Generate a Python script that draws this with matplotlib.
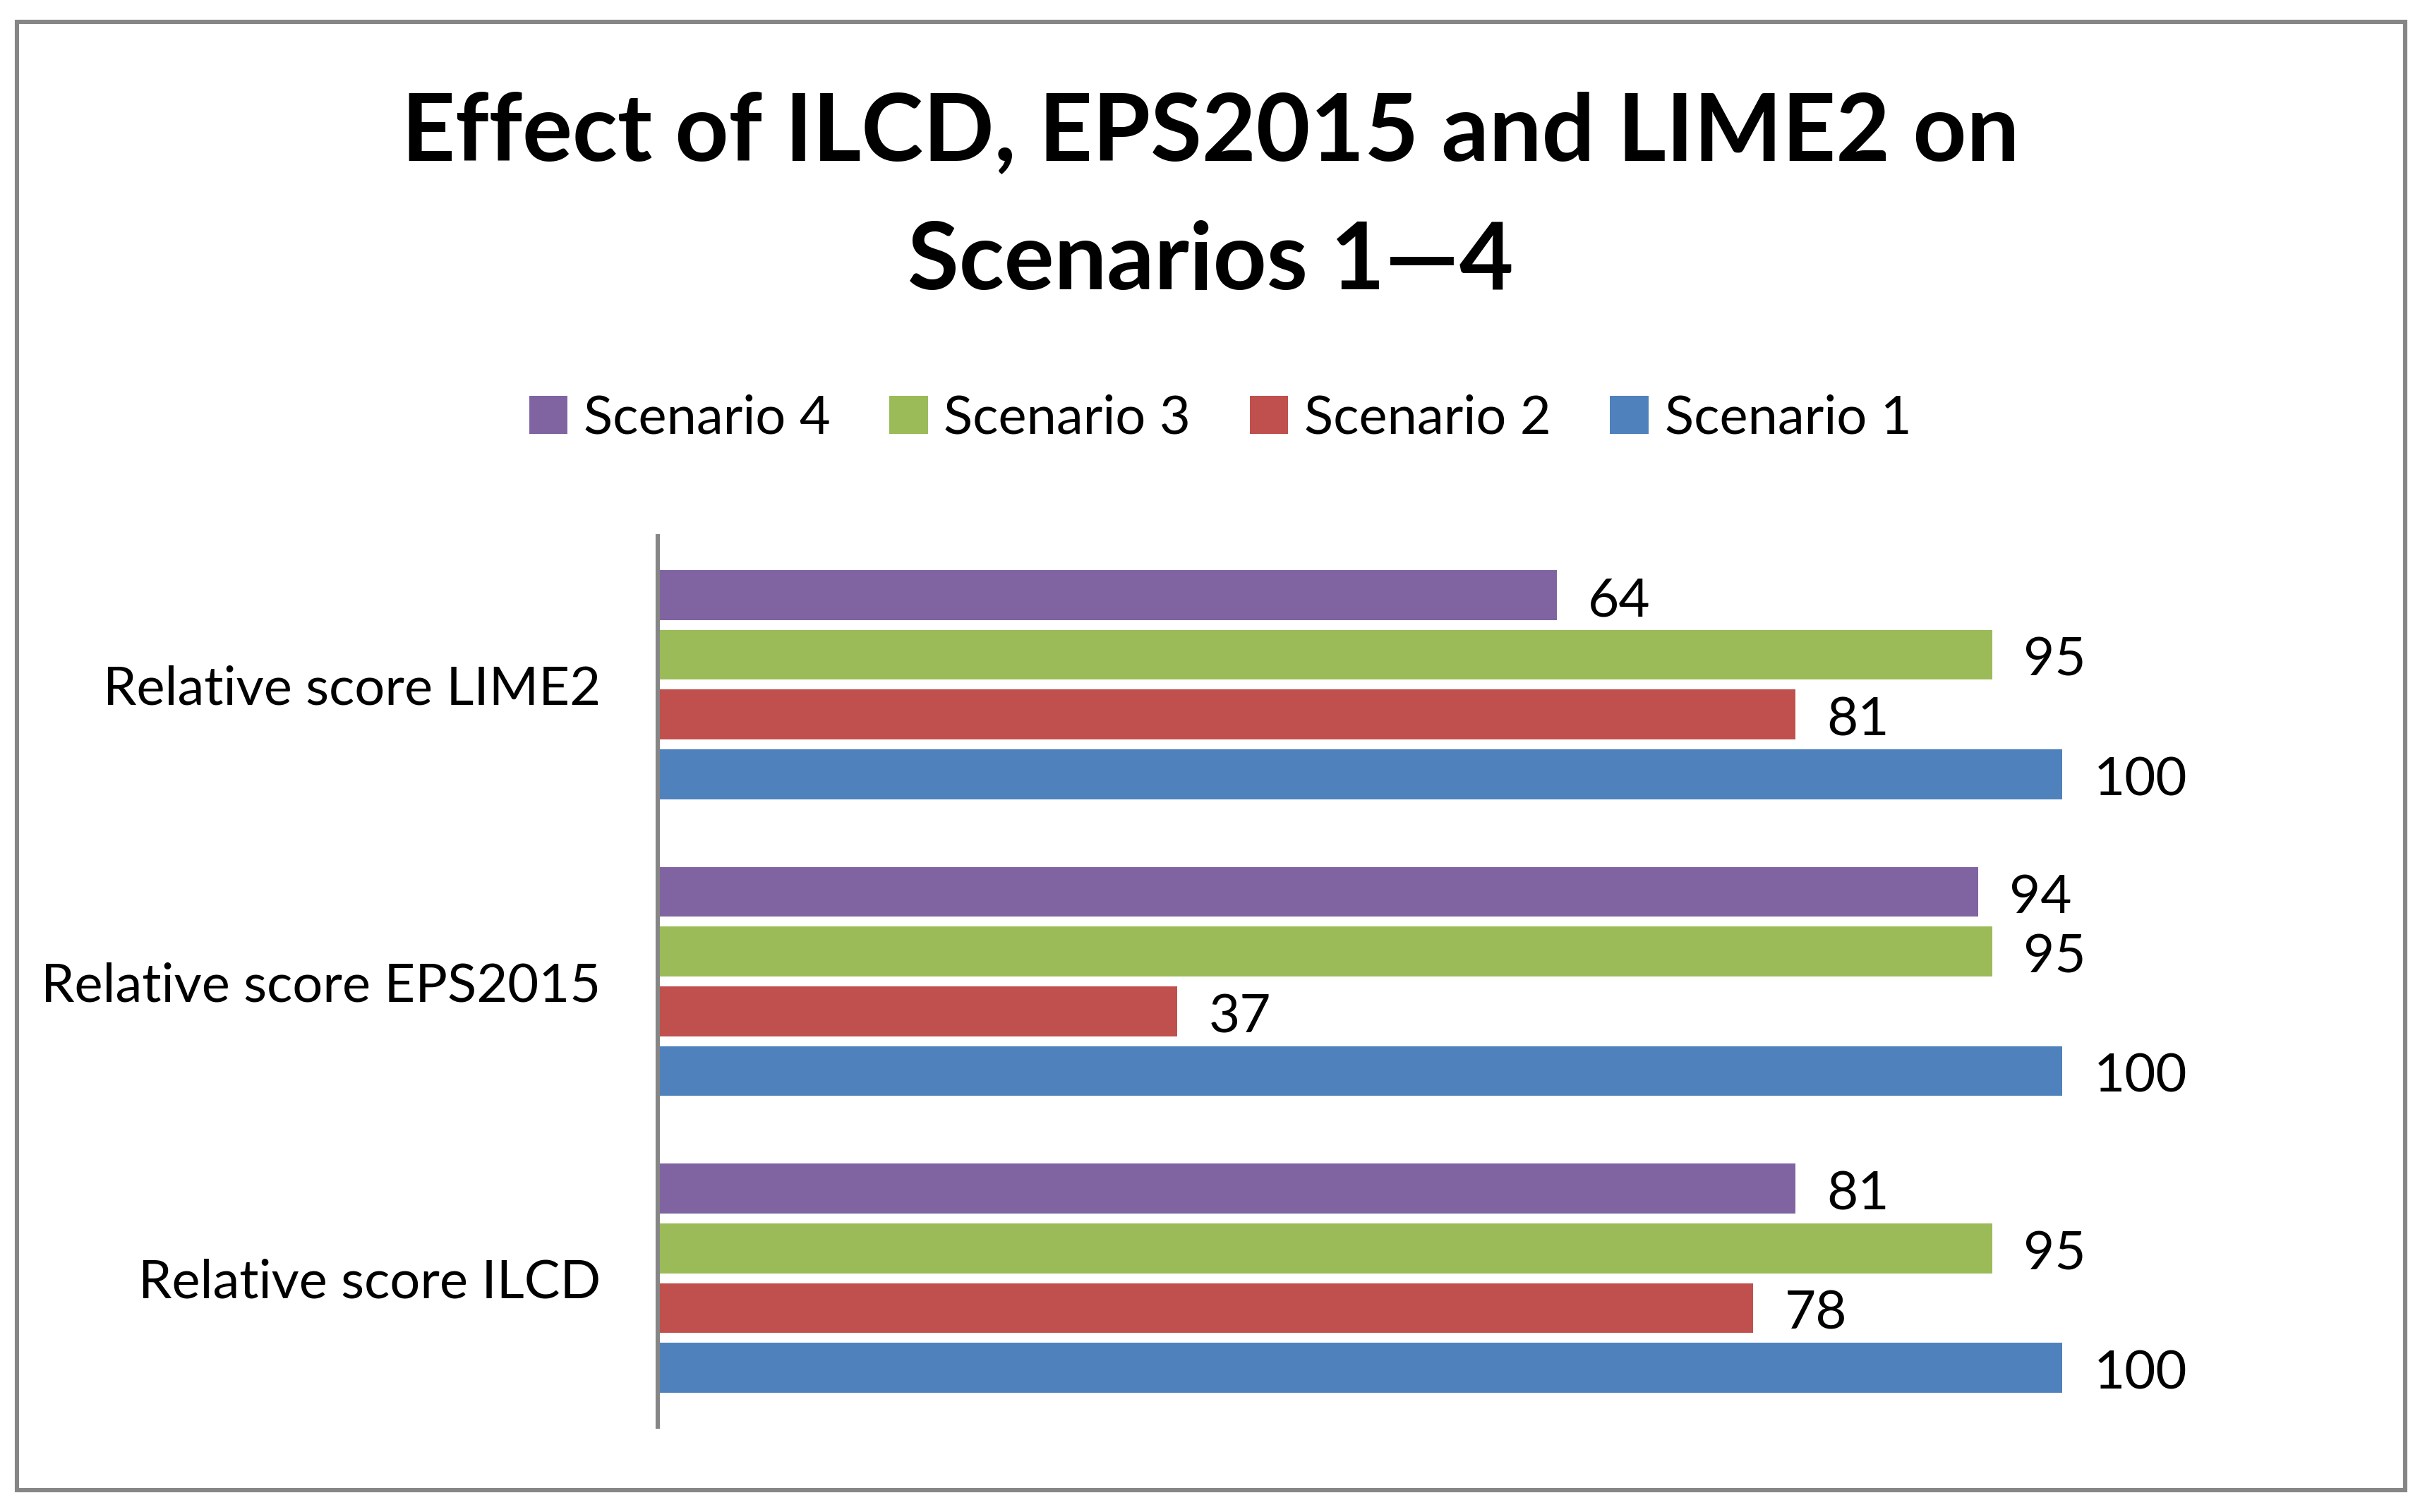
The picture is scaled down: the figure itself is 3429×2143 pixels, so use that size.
import numpy as np
import matplotlib.pyplot as plt
from matplotlib.patches import Patch, Rectangle

# data
categories = ['Relative score ILCD', 'Relative score EPS2015', 'Relative score LIME2']
scenarios = ['Scenario 1', 'Scenario 2', 'Scenario 3', 'Scenario 4']
scenario1 = [100, 100, 100]
scenario2 = [78, 37, 81]
scenario3 = [95, 95, 95]
scenario4 = [81, 94, 64]
colors = ['#4F81BD', '#C0504D', '#9BBB59', '#8064A2']

plt.rcParams['font.family'] = ['Lato', 'DejaVu Sans']

W, H = 3430, 2143
fig = plt.figure(figsize=(W / 200, H / 200), dpi=200)

# outer chart border
fig.patches.append(Rectangle((24 / W, 1 - 2112 / H), (3408 - 24) / W, (2112 - 31) / H,
                             transform=fig.transFigure, fill=False,
                             edgecolor='#868686', linewidth=2.2))

ax = fig.add_axes([932 / W, 1 - 2022 / H, (2922 - 932) / W, (2022 - 760) / H])

y = np.arange(len(categories))
step = 0.2014
height = 0.168
series = [scenario1, scenario2, scenario3, scenario4]
for i, (vals, col) in enumerate(zip(series, colors)):
    pos = y + (i - 1.5) * step
    bars = ax.barh(pos, vals, height=height, color=col, label=scenarios[i])
    for b, v in zip(bars, vals):
        ax.annotate(f'{v}', (b.get_width(), b.get_y() + b.get_height() / 2),
                    xytext=(16, -3), textcoords='offset points',
                    ha='left', va='center', fontsize=27.5, annotation_clip=False)

ax.set_xlim(0, 100)
ax.set_ylim(-0.5, 2.5)
ax.set_yticks(y)
ax.set_yticklabels(categories, fontsize=27.3)
ax.tick_params(axis='y', length=0, pad=29)
ax.set_xticks([])
for s in ['top', 'right', 'bottom']:
    ax.spines[s].set_visible(False)
ax.spines['left'].set_color('#868686')
ax.spines['left'].set_linewidth(2.2)

fig.text(0.5, 1 - 190 / H, 'Effect of ILCD, EPS2015 and LIME2 on', ha='center', va='center',
         fontsize=47.7, fontweight='bold')
fig.text(0.5, 1 - 372 / H, 'Scenarios 1\u20144', ha='center', va='center',
         fontsize=47.7, fontweight='bold')

handles = [Patch(facecolor=colors[i], label=scenarios[i]) for i in [3, 2, 1, 0]]
fig.legend(handles=handles, loc='center', bbox_to_anchor=(1729 / W, 1 - 593 / H),
           ncol=4, frameon=False, fontsize=27.3, handlelength=0.72, handleheight=0.72,
           handletextpad=0.3, columnspacing=1.1)

fig.savefig('out.png', dpi=200)
